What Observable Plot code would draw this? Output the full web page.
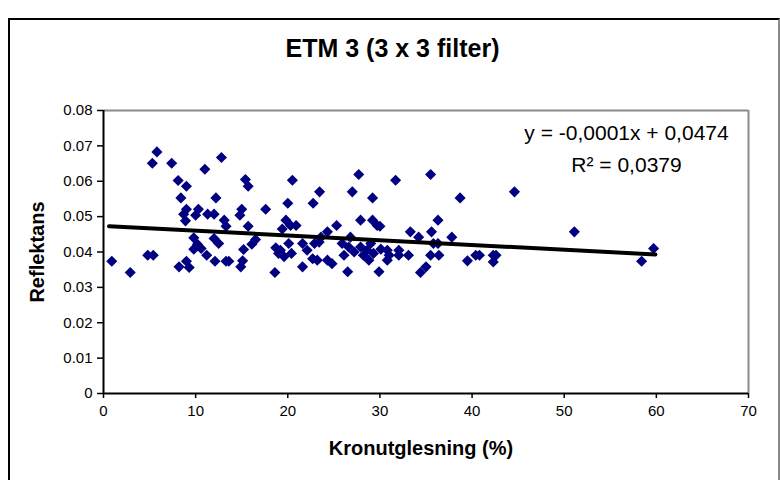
<!DOCTYPE html>
<html>
<head>
<meta charset="utf-8">
<script src="https://cdn.jsdelivr.net/npm/d3@7"></script>
<script src="https://cdn.jsdelivr.net/npm/@observablehq/plot@0.6"></script>
<style>
  html, body { margin: 0; padding: 0; background: #fff; }
  #wrap { position: relative; width: 780px; height: 480px; overflow: hidden; font-family: "Liberation Sans", Arial, sans-serif; }
  #frame { position: absolute; left: 8px; top: 18px; width: 768px; height: 500px;
           border-left: 2px solid #000; border-top: 2px solid #000; border-right: 2px solid #8a8a8a; }
  #chart { position: absolute; left: 0; top: 0; }
</style>
</head>
<body>
<div id="wrap"><div id="frame"></div><div id="chart"></div></div>
<script>
const title = "ETM 3 (3 x 3 filter)";
const xLabel = "Kronutglesning (%)";
const yLabel = "Reflektans";
const equationText = "y = -0,0001x + 0,0474";
const r2Text = "R\u00B2 = 0,0379";

const xTicks = [0, 10, 20, 30, 40, 50, 60, 70];
const yTicks = [0, 0.01, 0.02, 0.03, 0.04, 0.05, 0.06, 0.07, 0.08];
const yTickLabels = ["0", "0.01", "0.02", "0.03", "0.04", "0.05", "0.06", "0.07", "0.08"];

// Kronutglesning (%)
const xs = [
  0.9, 2.9, 4.8, 5.4, 5.8, 5.3, 7.4, 8.1, 9.0, 8.4,
  9.0, 8.7, 8.9, 8.2, 9.3, 9.0, 9.8, 10.2, 9.8, 10.6,
  10.3, 10.0, 11.0, 12.8, 12.2, 11.3, 12.0, 11.2, 12.0, 12.5,
  12.1, 13.3, 13.6, 13.1, 13.3, 15.4, 15.7, 15.0, 14.8, 15.7,
  15.1, 14.9, 15.2, 16.1, 16.5, 17.6, 18.6, 20.0, 20.5, 19.8,
  20.3, 20.9, 19.4, 18.7, 19.2, 19.6, 19.0, 20.4, 20.1, 21.6,
  22.1, 22.7, 23.2, 22.9, 23.4, 21.6, 22.75, 23.45, 23.6, 24.3,
  25.3, 25.9, 26.6, 27.2, 26.8, 24.3, 24.8, 26.5, 26.1, 27.0,
  27.7, 27.9, 29.2, 29.7, 30.0, 29.2, 31.7, 29.9, 27.9, 28.6,
  29.3, 28.8, 28.2, 29.0, 30.1, 30.8, 31.0, 30.8, 32.05, 32.05,
  33.1, 33.3, 34.2, 35.6, 35.5, 36.3, 35.8, 36.3, 35.5, 36.4,
  37.8, 38.7, 34.4, 35.0, 39.5, 40.4, 40.8, 42.3, 42.6, 42.3,
  44.6, 51.1, 58.4, 59.7
];
// Reflektans
const ys = [
  0.0374, 0.0342, 0.0391, 0.0391, 0.0683, 0.0651, 0.0651, 0.0602, 0.0586, 0.0553,
  0.0521, 0.0507, 0.0488, 0.0358, 0.0356, 0.0374, 0.0440, 0.0422, 0.0408, 0.0410,
  0.0521, 0.0504, 0.0634, 0.0667, 0.0553, 0.0507, 0.0507, 0.0391, 0.0438, 0.0424,
  0.0374, 0.0374, 0.0374, 0.0490, 0.0473, 0.0605, 0.0586, 0.0521, 0.0504, 0.0473,
  0.0375, 0.0358, 0.0407, 0.0422, 0.0435, 0.0521, 0.0342, 0.0538, 0.0603, 0.0490,
  0.0475, 0.0475, 0.0465, 0.0412, 0.0405, 0.0387, 0.0396, 0.0396, 0.0424, 0.0424,
  0.0405, 0.0381, 0.0377, 0.0424, 0.0428, 0.0358, 0.0538, 0.0570, 0.0442, 0.0457,
  0.0475, 0.0424, 0.0414, 0.0400, 0.0442, 0.0377, 0.0367, 0.0344, 0.0391, 0.0570,
  0.0619, 0.0490, 0.0490, 0.0475, 0.0473, 0.0553, 0.0603, 0.0344, 0.0414, 0.0405,
  0.0396, 0.0377, 0.0391, 0.0424, 0.0408, 0.0405, 0.0391, 0.0377, 0.0405, 0.0391,
  0.0391, 0.0457, 0.0442, 0.0457, 0.0619, 0.0490, 0.0424, 0.0424, 0.0391, 0.0391,
  0.0442, 0.0553, 0.0342, 0.0358, 0.0375, 0.0391, 0.0391, 0.0391, 0.0391, 0.0372,
  0.0570, 0.0457, 0.0374, 0.0410
];

// Trendline endpoints as drawn
const trendX = [0.6, 59.9];
const trendY = [0.0473, 0.0393];

const points = xs.map((x, i) => ({x, y: ys[i]}));
const trend = trendX.map((x, i) => ({x, y: trendY[i]}));

const chart = Plot.plot({
  width: 780,
  height: 480,
  marginLeft: 103,
  marginRight: 32,
  marginTop: 110,
  marginBottom: 87,
  style: {fontFamily: "'Liberation Sans', Arial, sans-serif", fontSize: "15px", color: "#000", background: "transparent", overflow: "visible"},
  x: {domain: [0, 70]},
  y: {domain: [0, 0.08]},
  marks: [
    Plot.ruleY([0.08], {stroke: "#8a8a8a", strokeWidth: 2}),
    Plot.ruleX([70], {stroke: "#8a8a8a", strokeWidth: 2}),
    Plot.axisX({ticks: xTicks, tickSize: 5, tickPadding: 7, strokeWidth: 1.5, fontSize: 15, label: null, tickFormat: d => String(d)}),
    Plot.axisY({ticks: yTicks, tickSize: 6, tickPadding: 5, strokeWidth: 1.5, fontSize: 15, label: null, tickFormat: d => yTickLabels[yTicks.indexOf(d)]}),
    Plot.ruleX([0], {stroke: "#000", strokeWidth: 2}),
    Plot.ruleY([0], {stroke: "#000", strokeWidth: 2}),
    Plot.dot(points, {x: "x", y: "y", symbol: "diamond2", r: 5, fill: "#000080", stroke: null}),
    Plot.line(trend, {x: "x", y: "y", stroke: "#000", strokeWidth: 4}),
    Plot.text([title], {text: d => d, frameAnchor: "top-left", dx: 289, dy: -62, textAnchor: "middle", lineAnchor: "middle", fontSize: 25, fontWeight: "bold", fill: "#000"}),
    Plot.text([xLabel], {text: d => d, frameAnchor: "bottom", dx: -5, dy: 55, lineAnchor: "middle", fontSize: 20, fontWeight: "bold", fill: "#000"}),
    Plot.text([yLabel], {text: d => d, frameAnchor: "left", dx: -66, rotate: -90, lineAnchor: "middle", textAnchor: "middle", fontSize: 20, fontWeight: "bold", fill: "#000"}),
    Plot.text([equationText], {text: d => d, frameAnchor: "top-left", dx: 523, dy: 23, textAnchor: "middle", lineAnchor: "middle", fontSize: 21, fill: "#000"}),
    Plot.text([r2Text], {text: d => d, frameAnchor: "top-left", dx: 523, dy: 55, textAnchor: "middle", lineAnchor: "middle", fontSize: 21, fill: "#000"})
  ]
});
document.getElementById("chart").appendChild(chart);
</script>
</body>
</html>
